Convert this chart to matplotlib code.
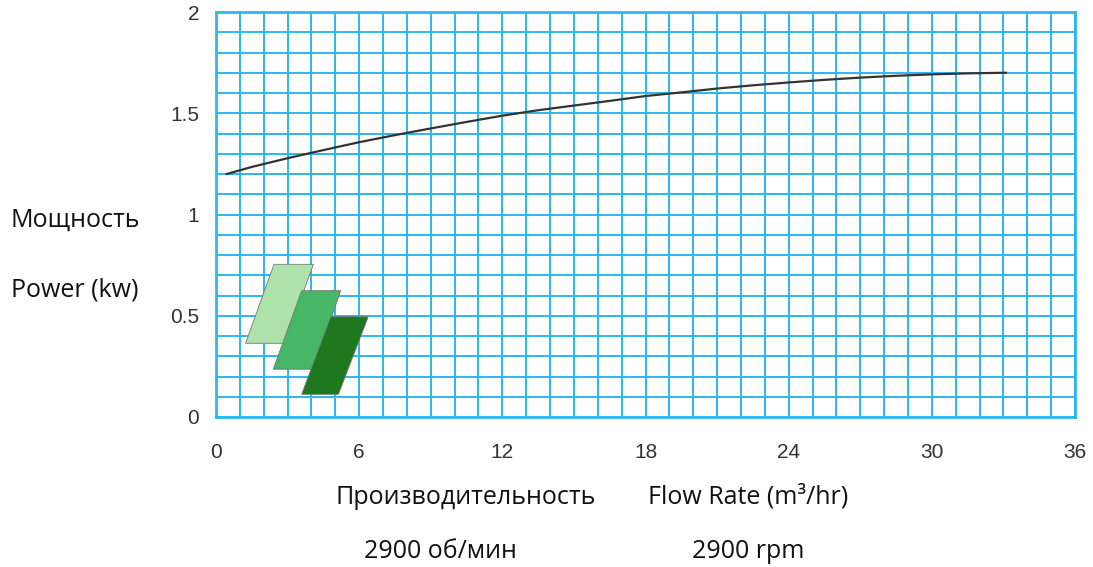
import numpy as np
import matplotlib.pyplot as plt
from matplotlib.patches import Polygon

# данные кривой мощности
flow = [0.45, 1.5, 3, 4.5, 6, 7.5, 9, 10.5, 12, 13.5, 15, 16.5, 18, 19.5, 21,
        22.5, 24, 25.5, 27, 28.5, 30, 31.5, 33.1]
power = [1.2, 1.235, 1.278, 1.318, 1.357, 1.392, 1.425, 1.457, 1.488, 1.515, 1.538,
         1.561, 1.585, 1.603, 1.622, 1.638, 1.652, 1.665, 1.676, 1.685, 1.692,
         1.697, 1.70]

xticks = [0, 6, 12, 18, 24, 30, 36]
yticks = [0, 0.5, 1, 1.5, 2]
ytick_labels = ["0", "0.5", "1", "1.5", "2"]

grid_color = "#2cb8ef"

fig = plt.figure(figsize=(10.93, 5.67), dpi=100)
ax = fig.add_axes([216/1093, 150/567, 859/1093, 405/567])

ax.set_xlim(0, 36)
ax.set_ylim(0, 2)

# сетка: вертикальные линии через 1, горизонтальные через 0.1
ax.set_xticks(np.arange(0, 37, 1), minor=True)
ax.set_yticks(np.arange(0, 2.01, 0.1), minor=True)
ax.grid(True, which="minor", color=grid_color, lw=1.4)
ax.grid(True, which="major", color=grid_color, lw=1.4)
ax.set_axisbelow(True)
for s in ax.spines.values():
    s.set_color(grid_color)
    s.set_linewidth(2)

ax.set_xticks(xticks)
ax.set_yticks(yticks)
ax.set_yticklabels(ytick_labels)
ax.tick_params(which="both", length=0, labelsize=15, labelcolor="#333333")
ax.tick_params(axis="x", pad=19)
ax.tick_params(axis="y", pad=12)
for lbl in ax.get_xticklabels() + ax.get_yticklabels():
    lbl.set_family("Liberation Sans")

ax.plot(flow, power, color="#333333", lw=1.6, zorder=3)

# логотип - три параллелограмма
shapes = [
    ([(2.43, 0.754), (4.08, 0.754), (2.89, 0.364), (1.24, 0.364)], "#ade3ab"),
    ([(3.59, 0.624), (5.23, 0.624), (4.08, 0.236), (2.40, 0.236)], "#45b766"),
    ([(4.81, 0.495), (6.38, 0.495), (5.13, 0.112), (3.59, 0.112)], "#1d781e"),
]
for pts, col in shapes:
    ax.add_patch(Polygon(pts, closed=True, facecolor=col, edgecolor="#777777", lw=0.6, zorder=4))

txt = dict(family="Open Sans", fontsize=18, color="#111111", ha="center", va="center")
fig.text(75/1093, 1 - 220/567, "Мощность", **txt)
fig.text(75/1093, 1 - 290/567, "Power (kw)", **txt)
fig.text(466/1093, 1 - 497/567, "Производительность", **txt)
fig.text(748/1093, 1 - 497/567, "Flow Rate (m³/hr)", **txt)
fig.text(440/1093, 1 - 551/567, "2900 об/мин", **txt)
fig.text(748/1093, 1 - 551/567, "2900 rpm", **txt)

plt.savefig("out.png", dpi=100)
